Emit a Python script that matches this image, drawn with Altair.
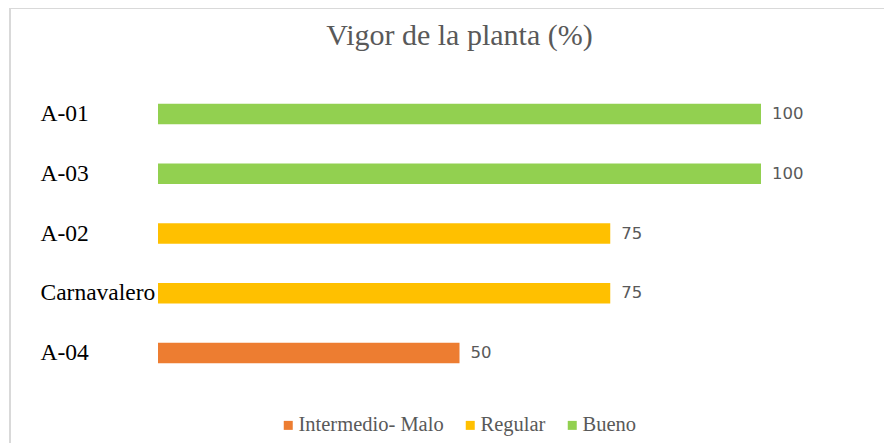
import altair as alt
import pandas as pd

variedades = ["A-01", "A-03", "A-02", "Carnavalero", "A-04"]
vigor = [100, 100, 75, 75, 50]
categoria = ["Bueno", "Bueno", "Regular", "Regular", "Intermedio- Malo"]
leyenda = ["Intermedio- Malo", "Regular", "Bueno"]
colores = ["#ED7D31", "#FFC000", "#92D050"]

df = pd.DataFrame({"variedad": variedades, "vigor": vigor, "categoria": categoria})

y_enc = alt.Y(
    "variedad:N",
    sort=variedades,
    title=None,
    scale=alt.Scale(paddingInner=0.657, paddingOuter=0.3285),
    axis=alt.Axis(
        domain=False, ticks=False, tickSize=0, labelAlign="left", labelPadding=118,
        labelFont="Liberation Serif", labelFontSize=23.5, labelColor="#000000",
        labelBaseline="middle",
    ),
)
x_enc = alt.X("vigor:Q", scale=alt.Scale(domain=[0, 100], nice=False), axis=None)

bars = alt.Chart(df).mark_bar().encode(
    x=x_enc,
    y=y_enc,
    color=alt.Color(
        "categoria:N",
        scale=alt.Scale(domain=leyenda, range=colores),
        legend=alt.Legend(
            title=None, orient="none", legendX=120, legendY=331, direction="horizontal",
            symbolType="square", symbolSize=81, symbolStrokeWidth=0,
            labelFont="Liberation Serif", labelFontSize=20.5, labelColor="#595959",
            columnPadding=16, labelOffset=0,
        ),
    ),
)

labels = alt.Chart(df).mark_text(
    align="left", baseline="middle", dx=11, font="DejaVu Sans", fontSize=16.5, color="#595959"
).encode(x=x_enc, y=alt.Y("variedad:N", sort=variedades), text="vigor:Q")

border_top = alt.Chart(df).mark_rule(color="#D9D9D9", strokeWidth=1.5).encode(
    x=alt.value(-148), x2=alt.value(726), y=alt.value(-76)
)
border_left = alt.Chart(df).mark_rule(color="#D9D9D9", strokeWidth=1.5).encode(
    x=alt.value(-148), y=alt.value(-76), y2=alt.value(364)
)

chart = alt.layer(bars, labels, border_top, border_left).properties(
    width=603,
    height=299,
    padding={"left": 150, "top": 76, "right": 123, "bottom": 60},
    autosize=alt.AutoSizeParams(type="none"),
    title=alt.Title(
        "Vigor de la planta (%)", font="Liberation Serif", fontSize=30, fontWeight="normal",
        color="#595959", anchor="middle", baseline="alphabetic", offset=-68,
    ),
).configure_view(stroke=None)

chart.save("out.html", embed_options={"renderer": "svg", "actions": False})
